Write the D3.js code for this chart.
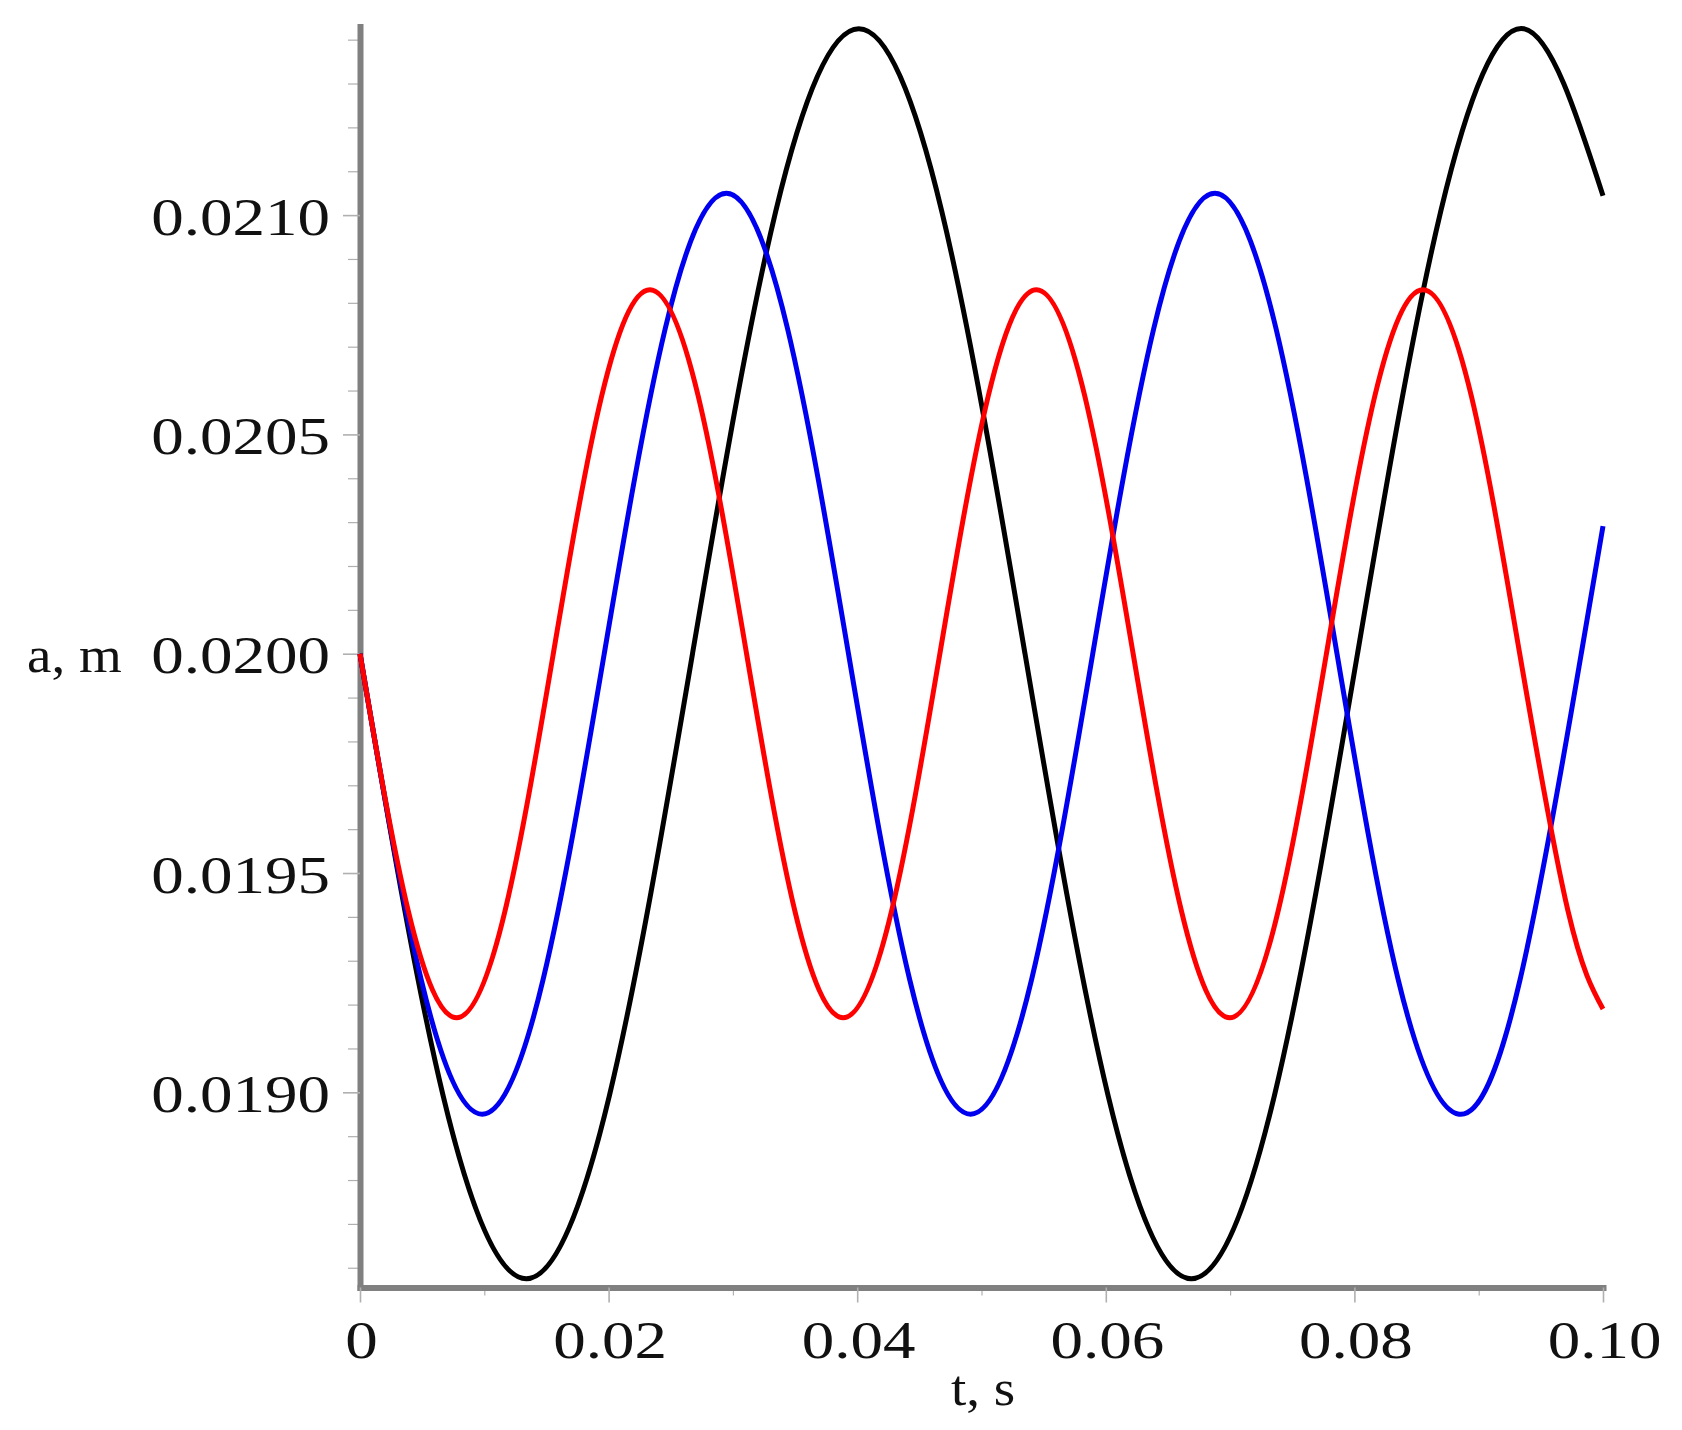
<!DOCTYPE html>
<html><head><meta charset="utf-8">
<script src="https://cdn.jsdelivr.net/npm/d3@7"></script>
<style>html,body{margin:0;padding:0;background:#fff;} svg{display:block;background:#fff;}</style>
</head><body>
<svg id="chart" width="1682" height="1430"></svg>
<script>
// ---- data ----
const xTicks = [0, 0.02, 0.04, 0.06, 0.08, 0.10];
const xMinorTicks = [0.01, 0.03, 0.05, 0.07, 0.09];
const yTicks = [0.0190, 0.0195, 0.0200, 0.0205, 0.0210];
const yMinorTicks = [0.0186, 0.0187, 0.0188, 0.0189, 0.0191, 0.0192, 0.0193, 0.0194,
                     0.0196, 0.0197, 0.0198, 0.0199, 0.0201, 0.0202, 0.0203, 0.0204,
                     0.0206, 0.0207, 0.0208, 0.0209, 0.0211, 0.0212, 0.0213, 0.0214];
const xLabel = "t, s";
const yLabel = "a, m";

const blackT = [0, 0.00669, 0.01338, 0.02006, 0.02675, 0.03344, 0.04013, 0.04681, 0.0535,
                0.06019, 0.06688, 0.07356, 0.08025, 0.08694, 0.09363, 0.1];
const blackA = [0.02, 0.018992, 0.018575, 0.018992, 0.02, 0.021008, 0.021425, 0.021008, 0.02,
                0.018992, 0.018575, 0.018992, 0.02, 0.021008, 0.021425, 0.021044];

const blueT = [0, 0.004913, 0.009825, 0.014738, 0.01965, 0.024563, 0.029475, 0.034388, 0.0393,
               0.044213, 0.049125, 0.054038, 0.05895, 0.063863, 0.068775, 0.073688, 0.0786,
               0.083513, 0.088425, 0.093338, 0.09825, 0.1];
const blueA = [0.02, 0.019258, 0.01895, 0.019258, 0.02, 0.020742, 0.02105, 0.020742, 0.02,
               0.019258, 0.01895, 0.019258, 0.02, 0.020742, 0.02105, 0.020742, 0.02,
               0.019258, 0.01895, 0.019258, 0.02, 0.020291];

const redT = [0, 0.003888, 0.007775, 0.011663, 0.01555, 0.019438, 0.023325, 0.027213, 0.0311,
              0.034988, 0.038875, 0.042763, 0.04665, 0.050538, 0.054425, 0.058313, 0.0622,
              0.066088, 0.069975, 0.073863, 0.07775, 0.081638, 0.085525, 0.089413, 0.0933,
              0.097188, 0.1];
const redA = [0.02, 0.019413, 0.01917, 0.019413, 0.02, 0.020587, 0.02083, 0.020587, 0.02,
              0.019413, 0.01917, 0.019413, 0.02, 0.020587, 0.02083, 0.020587, 0.02,
              0.019413, 0.01917, 0.019413, 0.02, 0.020587, 0.02083, 0.020587, 0.02,
              0.019413, 0.01919];

const seriesNames = ["black", "blue", "red"];
const seriesColors = ["#000000", "#0000f0", "#ff0000"];

// ---- drawing ----
const svg = d3.select("#chart");
const x = d3.scaleLinear().domain([0, 0.1]).range([360, 1603]);
const y = d3.scaleLinear().domain([0.018555, 0.02143]).range([1287.5, 26.5]);

const FONT = "'Liberation Serif', 'Times New Roman', serif";
const axisColor = "#808080";
const tickColor = "#b0b0b0";

function styleTicks(g, w) {
  g.selectAll(".tick line").attr("stroke", tickColor).attr("stroke-width", w);
}

// minor ticks
svg.append("g").attr("transform", "translate(360,0)")
  .call(d3.axisLeft(y).tickValues(yMinorTicks).tickSize(12).tickSizeOuter(0).tickFormat(""))
  .call(g => { g.select(".domain").remove(); styleTicks(g, 1.2); });
svg.append("g").attr("transform", "translate(0,1287.5)")
  .call(d3.axisBottom(x).tickValues(xMinorTicks).tickSize(8).tickSizeOuter(0).tickFormat(""))
  .call(g => { g.select(".domain").remove(); styleTicks(g, 1.2); });

// major y axis
const gy = svg.append("g").attr("transform", "translate(360,0)")
  .call(d3.axisLeft(y).tickValues(yTicks).tickSize(17).tickSizeOuter(0).tickFormat(d3.format(".4f")));
gy.attr("font-family", FONT).attr("font-size", 52);
gy.select(".domain").attr("stroke", axisColor).attr("stroke-width", 6).attr("stroke-linecap", "square");
styleTicks(gy, 1.6);
gy.selectAll(".tick text").attr("x", 0).attr("dy", null).attr("fill", "#111")
  .attr("text-anchor", "end")
  .attr("transform", "translate(-30,19) scale(1.25,1)");

// major x axis
const gx = svg.append("g").attr("transform", "translate(0,1287.5)")
  .call(d3.axisBottom(x).tickValues(xTicks).tickSize(15).tickSizeOuter(0)
    .tickFormat(d => d === 0 ? "0" : d3.format(".2f")(d)));
gx.attr("font-family", FONT).attr("font-size", 52);
gx.select(".domain").attr("stroke", axisColor).attr("stroke-width", 6).attr("stroke-linecap", "square");
styleTicks(gx, 1.6);
gx.selectAll(".tick text").attr("y", 0).attr("dy", null).attr("fill", "#111")
  .attr("text-anchor", "middle")
  .attr("transform", "translate(1,70.5) scale(1.25,1)");

// axis titles
svg.append("text").attr("transform", "translate(27,672) scale(1.1,1)")
  .attr("font-family", FONT).attr("font-size", 50).attr("fill", "#111")
  .attr("text-anchor", "start").text(yLabel);
svg.append("text").attr("transform", "translate(983,1405) scale(1.1,1)")
  .attr("font-family", FONT).attr("font-size", 50).attr("fill", "#111")
  .attr("text-anchor", "middle").text(xLabel);

// curves
const seriesData = [
  blackT.map((t, i) => [t, blackA[i]]),
  blueT.map((t, i) => [t, blueA[i]]),
  redT.map((t, i) => [t, redA[i]])
];
const line = d3.line().x(d => x(d[0])).y(d => y(d[1])).curve(d3.curveNatural);
svg.append("g").selectAll("path").data(seriesData).join("path")
  .attr("class", (d, i) => "series-" + seriesNames[i])
  .attr("d", line)
  .attr("fill", "none")
  .attr("stroke", (d, i) => seriesColors[i])
  .attr("stroke-width", 5)
  .attr("stroke-linejoin", "round");
</script>
</body></html>
